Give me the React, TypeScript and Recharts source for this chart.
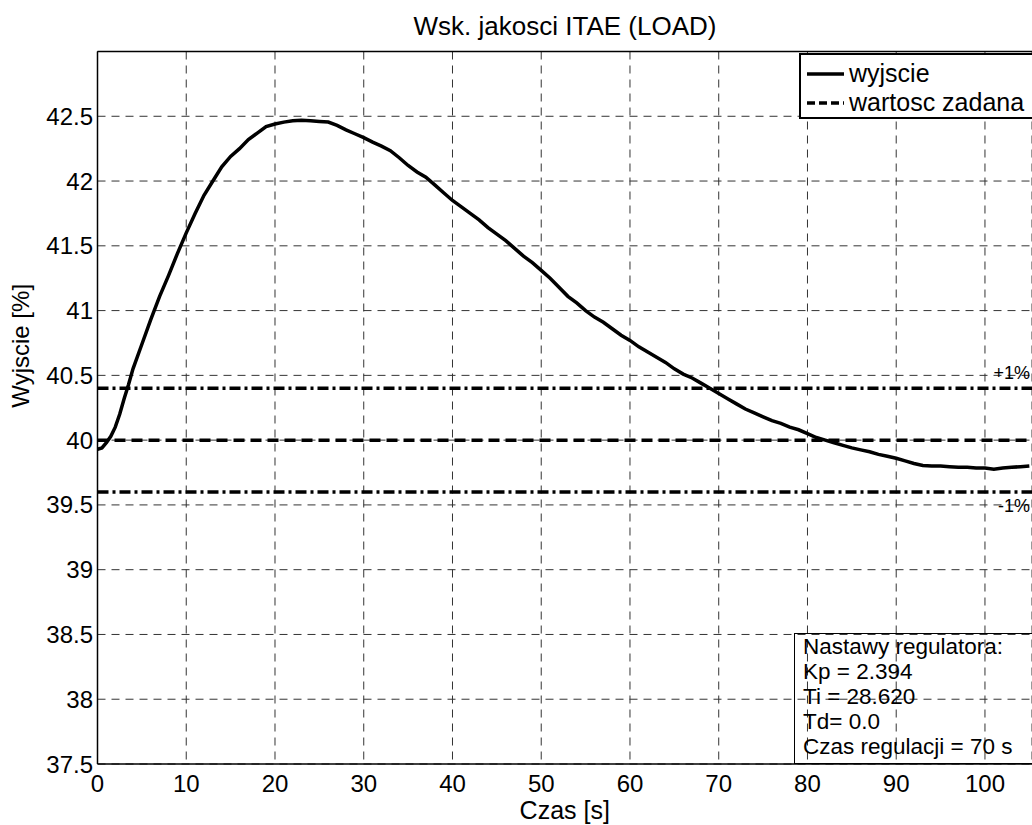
import {
  CartesianGrid,
  Legend,
  Line,
  LineChart,
  ReferenceLine,
  XAxis,
  YAxis,
} from 'recharts'

const TIME = [
  0, 0.5, 1, 1.5, 2, 2.5, 3, 3.5, 4, 5, 6, 7, 8, 9, 10, 11, 12, 13, 14, 15, 16, 17, 18, 19, 20,
  21, 22, 23, 24, 25, 26, 27, 28, 29, 30, 31, 32, 33, 34, 35, 36, 37, 38, 39, 40, 41, 42, 43,
  44, 45, 46, 47, 48, 49, 50, 51, 52, 53, 54, 55, 56, 57, 58, 59, 60, 61, 62, 63, 64, 65, 66,
  67, 68, 69, 70, 71, 72, 73, 74, 75, 76, 77, 78, 79, 80, 81, 82, 83, 84, 85, 86, 87, 88, 89,
  90, 91, 92, 93, 94, 95, 96, 97, 98, 99, 100, 101, 102, 103, 104, 105,
]

const OUTPUT = [
  39.93, 39.94, 39.98, 40.03, 40.1, 40.2, 40.32, 40.43, 40.55, 40.74, 40.93, 41.11, 41.27,
  41.44, 41.6, 41.75, 41.89, 42.0, 42.11, 42.19, 42.25, 42.32, 42.37, 42.42, 42.44, 42.455,
  42.465, 42.47, 42.465, 42.46, 42.455, 42.43, 42.395, 42.365, 42.335, 42.3, 42.27, 42.235,
  42.18, 42.12, 42.07, 42.03, 41.97, 41.91, 41.85, 41.8, 41.75, 41.7, 41.64, 41.59, 41.54,
  41.48, 41.42, 41.37, 41.31, 41.25, 41.18, 41.11, 41.06, 41.0, 40.95, 40.91, 40.86, 40.81,
  40.77, 40.72, 40.68, 40.64, 40.6, 40.55, 40.51, 40.48, 40.44, 40.4, 40.36, 40.32, 40.28,
  40.24, 40.21, 40.18, 40.15, 40.13, 40.1, 40.08, 40.05, 40.02, 40.0, 39.98, 39.96, 39.94,
  39.925, 39.91, 39.89, 39.875, 39.86, 39.84, 39.82, 39.805, 39.8, 39.8, 39.795, 39.79, 39.79,
  39.785, 39.785, 39.775, 39.785, 39.79, 39.795, 39.8,
]

const SETPOINT = 40
const BAND_HI = 40.4
const BAND_LO = 39.6

const X_TICKS = [0, 10, 20, 30, 40, 50, 60, 70, 80, 90, 100]
const Y_TICKS = [37.5, 38, 38.5, 39, 39.5, 40, 40.5, 41, 41.5, 42, 42.5]

const SETTINGS = [
  'Nastawy regulatora:',
  'Kp = 2.394',
  'Ti = 28.620',
  'Td= 0.0',
  'Czas regulacji = 70 s',
]

const data = TIME.map((t, i) => ({ t, y: OUTPUT[i], sp: SETPOINT }))

const FONT = '"Liberation Sans", Arial, sans-serif'
const TICK = { fill: '#000', fontSize: 24, fontFamily: FONT }

function BandLabel({ viewBox, text, above }: any) {
  if (!viewBox) return null
  return (
    <text
      x={viewBox.x + viewBox.width - 2}
      y={above ? viewBox.y - 9 : viewBox.y + 20}
      textAnchor="end"
      fontSize={18}
      fontFamily={FONT}
      fill="#000"
    >
      {text}
    </text>
  )
}

function LegendBox() {
  const rows = [
    { label: 'wyjscie', dash: undefined },
    { label: 'wartosc zadana', dash: '8 4' },
  ]
  return (
    <div
      style={{
        background: '#fff',
        border: '2px solid #000',
        width: 260,
        height: 66,
        boxSizing: 'border-box',
        fontFamily: FONT,
        fontSize: 25,
        color: '#000',
        paddingTop: 4,
      }}
    >
      {rows.map((r) => (
        <div key={r.label} style={{ display: 'flex', alignItems: 'center', height: 29 }}>
          <svg width={48} height={10} style={{ flex: 'none' }}>
            <line x1={6} x2={43} y1={5} y2={5} stroke="#000" strokeWidth={3.5} strokeDasharray={r.dash} />
          </svg>
          <span style={{ lineHeight: '29px' }}>{r.label}</span>
        </div>
      ))}
    </div>
  )
}

export default function App() {
  return (
    <div style={{ position: 'relative', width: 1032, height: 825, overflow: 'hidden', background: '#fff' }}>
      <style>{'body{margin:0}'}</style>
      <div
        style={{
          position: 'absolute',
          left: 0,
          width: 1130,
          top: 10,
          textAlign: 'center',
          fontFamily: FONT,
          fontSize: 26,
          lineHeight: '32px',
        }}
      >
        Wsk. jakosci ITAE (LOAD)
      </div>
      <LineChart
        width={1032}
        height={825}
        data={data}
        margin={{ top: 51.5, right: 0, bottom: 0, left: 0 }}
      >
        <CartesianGrid stroke="#333" strokeDasharray="8 6" strokeWidth={1} />
        <XAxis
          dataKey="t"
          type="number"
          domain={[0, 105.3]}
          ticks={X_TICKS}
          allowDataOverflow
          height={61}
          tickLine={false}
          tickSize={6}
          tickMargin={5}
          axisLine={{ stroke: '#000', strokeWidth: 1.5 }}
          tick={TICK}
          label={{ value: 'Czas [s]', position: 'insideBottom', offset: 6, fill: '#000', fontSize: 25, fontFamily: FONT }}
        />
        <YAxis
          type="number"
          domain={[37.5, 43]}
          ticks={Y_TICKS}
          allowDataOverflow
          width={97.5}
          tickLine={false}
          tickSize={0}
          tickMargin={4.5}
          axisLine={{ stroke: '#000', strokeWidth: 1.5 }}
          tick={TICK}
          label={{ value: 'Wyjscie [%]', angle: -90, position: 'insideLeft', offset: 20, fill: '#000', fontSize: 24, fontFamily: FONT }}
        />
        <ReferenceLine y={43} stroke="#000" strokeWidth={1.5} />
        <ReferenceLine
          y={BAND_HI}
          stroke="#000"
          strokeWidth={3.5}
          strokeDasharray="11 4 3 4"
          label={(p: any) => <BandLabel {...p} text="+1%" above />}
        />
        <ReferenceLine
          y={BAND_LO}
          stroke="#000"
          strokeWidth={3.5}
          strokeDasharray="11 4 3 4"
          label={(p: any) => <BandLabel {...p} text="-1%" />}
        />
        <Line
          dataKey="sp"
          stroke="#000"
          strokeWidth={3.5}
          strokeDasharray="11 6"
          dot={false}
          isAnimationActive={false}
        />
        <Line
          dataKey="y"
          type="linear"
          stroke="#000"
          strokeWidth={3.5}
          dot={false}
          isAnimationActive={false}
        />
        <Legend
          layout="horizontal"
          verticalAlign="middle"
          align="center"
          content={() => <LegendBox />}
          wrapperStyle={{ position: 'absolute', left: 799, top: 53, width: 260, height: 66 }}
        />
      </LineChart>
      <div
        style={{
          position: 'absolute',
          left: 794,
          top: 633,
          width: 260,
          height: 131,
          boxSizing: 'border-box',
          border: '1.5px solid #000',
          paddingLeft: 8,
          fontFamily: FONT,
          fontSize: 22.5,
          lineHeight: '25px',
          color: '#000',
          pointerEvents: 'none',
        }}
      >
        {SETTINGS.map((s) => (
          <div key={s}>{s}</div>
        ))}
      </div>
    </div>
  )
}
